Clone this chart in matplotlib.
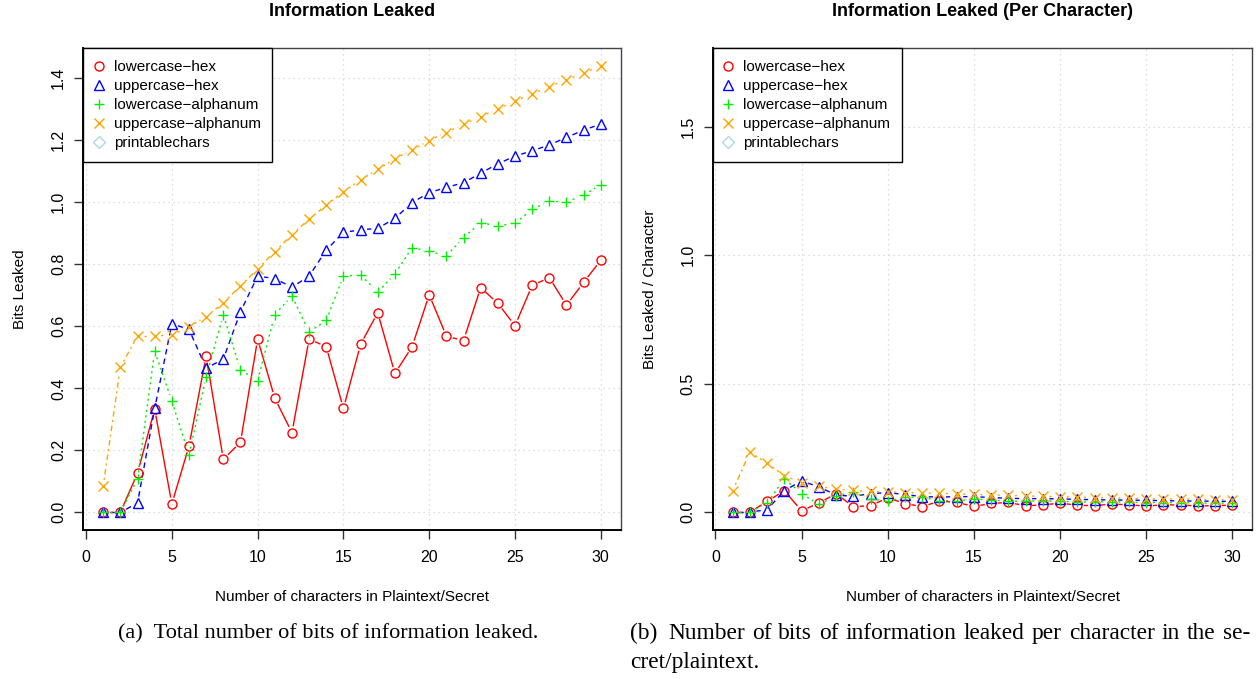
import numpy as np
import matplotlib
matplotlib.use("Agg")
import matplotlib.pyplot as plt
from matplotlib.lines import Line2D
from matplotlib.collections import LineCollection

plt.rcParams['font.family'] = ['Liberation Sans', 'DejaVu Sans']

n_chars = list(range(1, 31))

lowercase_hex = [0.0, 0.0, 0.126, 0.333, 0.027, 0.214, 0.504, 0.171, 0.226, 0.559,
                 0.368, 0.257, 0.559, 0.534, 0.335, 0.542, 0.644, 0.448, 0.534, 0.702,
                 0.568, 0.554, 0.725, 0.674, 0.602, 0.732, 0.757, 0.668, 0.742, 0.813]
uppercase_hex = [0.0, 0.0, 0.030, 0.335, 0.608, 0.590, 0.465, 0.494, 0.647, 0.762,
                 0.754, 0.726, 0.762, 0.846, 0.903, 0.911, 0.916, 0.948, 0.999, 1.031,
                 1.048, 1.063, 1.094, 1.124, 1.149, 1.166, 1.185, 1.209, 1.233, 1.252]
lowercase_alphanum = [0.0, 0.0, 0.108, 0.520, 0.359, 0.185, 0.438, 0.637, 0.459, 0.425,
                      0.638, 0.698, 0.582, 0.619, 0.762, 0.766, 0.710, 0.769, 0.854, 0.842,
                      0.827, 0.886, 0.934, 0.924, 0.932, 0.977, 1.003, 1.001, 1.023, 1.057]
uppercase_alphanum = [0.084, 0.468, 0.569, 0.569, 0.572, 0.599, 0.631, 0.676, 0.730, 0.785,
                      0.841, 0.895, 0.946, 0.991, 1.034, 1.072, 1.106, 1.140, 1.169, 1.199,
                      1.225, 1.252, 1.276, 1.301, 1.327, 1.349, 1.373, 1.395, 1.418, 1.440]

series_names = ["lowercase\u2212hex", "uppercase\u2212hex", "lowercase\u2212alphanum",
                "uppercase\u2212alphanum", "printablechars"]
series_values = [lowercase_hex, uppercase_hex, lowercase_alphanum, uppercase_alphanum]
colors = ["#FF0000", "#0000FF", "#00EE00", "#FFA500", "#ADD8E6"]
markers = ["o", "^", "+", "x", "D"]
msizes = [6.5, 7.5, 7.5, 6.5, 6.0]
linestyles = ["solid", (0, (4, 3)), (0, (1.5, 2.5)), (0, (1.5, 2.5, 4, 2.5))]

titles = ["Information Leaked", "Information Leaked (Per Character)"]
ylabels = ["Bits Leaked", "Bits Leaked / Character"]
xlabel = "Number of characters in Plaintext/Secret"
left_yticks = [0.0, 0.2, 0.4, 0.6, 0.8, 1.0, 1.2, 1.4]
right_yticks = [0.0, 0.5, 1.0, 1.5]
xticks = [0, 5, 10, 15, 20, 25, 30]
caption_a = "(a)  Total number of bits of information leaked."
caption_b1 = "(b) Number of bits of information leaked per character in the se-"
caption_b2 = "cret/plaintext."

W, H = 1260, 679
fig = plt.figure(figsize=(W / 100, H / 100), dpi=100)

def px_axes(x0, y0, x1, y1):
    return fig.add_axes([x0 / W, 1 - y1 / H, (x1 - x0) / W, (y1 - y0) / H])

ax1 = px_axes(83.3, 48, 620.7, 530.2)
ax2 = px_axes(712.7, 48, 1252.4, 530.2)
axes_info = [(ax1, False, left_yticks, (-0.0576, 1.4976), 352),
             (ax2, True, right_yticks, (-0.0702, 1.806), 982)]

x = np.array(n_chars, dtype=float)
GAP = 6.5  # pixels of gap around each point (R type="b")

def style(ax, yticks, ylim, ylabel):
    ax.set_xlim(-0.16, 31.16)
    ax.set_ylim(*ylim)
    ax.set_xticks(xticks)
    ax.set_yticks(yticks)
    ax.set_yticklabels([f"{t:.1f}" for t in yticks], rotation=90, va="center")
    ax.tick_params(axis="both", direction="out", length=6.5, width=1.0, labelsize=11.5,
                   color="#333333")
    ax.tick_params(axis="x", pad=8)
    ax.tick_params(axis="y", pad=6)
    ax.grid(True, color="#D3D3D3", linestyle=(0, (1, 3)), linewidth=0.9)
    ax.set_axisbelow(True)
    for s in ["left", "bottom"]:
        ax.spines[s].set_linewidth(1.4)
        ax.spines[s].set_color("black")
    for s in ["top", "right"]:
        ax.spines[s].set_linewidth(1.0)
        ax.spines[s].set_color("#444444")
    ax.set_xlabel(xlabel, fontsize=11, labelpad=18)
    ax.set_ylabel(ylabel, fontsize=11, labelpad=17)

def draw(ax, per_char):
    for vals, c, m, ms, ls in zip(series_values, colors, markers, msizes, linestyles):
        y = np.array(vals)
        if per_char:
            y = y / x
        pts = ax.transData.transform(np.column_stack([x, y]))
        inv = ax.transData.inverted()
        segs = []
        for p0, p1 in zip(pts[:-1], pts[1:]):
            d = p1 - p0
            L = np.hypot(*d)
            if L > 2 * GAP + 1:
                u = d / L
                segs.append([inv.transform(p0 + u * GAP), inv.transform(p1 - u * GAP)])
        lc = LineCollection(segs, colors=c, linewidths=1.0, linestyles=ls, zorder=2)
        ax.add_collection(lc)
        if m in ("o", "^", "D"):
            ax.plot(x, y, linestyle="none", marker=m, markersize=ms,
                    markerfacecolor="none", markeredgecolor=c, markeredgewidth=1.0, zorder=3)
        else:
            ax.plot(x, y, linestyle="none", marker=m, markersize=ms,
                    color=c, markeredgewidth=1.0, zorder=3)

def legend(ax):
    handles = []
    for c, m, ms in zip(colors, markers, msizes):
        if m in ("o", "^", "D"):
            h = Line2D([], [], linestyle="none", marker=m, markersize=ms,
                       markerfacecolor="none", markeredgecolor=c, markeredgewidth=1.0)
        else:
            h = Line2D([], [], linestyle="none", marker=m, markersize=ms, color=c,
                       markeredgewidth=1.0)
        handles.append(h)
    leg = ax.legend(handles, series_names, loc="upper left", fontsize=11, frameon=True,
                    fancybox=False, edgecolor="black", borderaxespad=0, handlelength=0.45,
                    handletextpad=0.75, labelspacing=0.33, borderpad=0.78, framealpha=1)
    leg.get_frame().set_linewidth(1.0)

for (ax, per_char, yt, yl, cx), ylab, title in zip(axes_info, ylabels, titles):
    style(ax, yt, yl, ylab)
    draw(ax, per_char)
    legend(ax)
    fig.text(cx / W, 1 - 11 / H, title, fontsize=13, fontweight="bold",
             ha="center", va="center")

cap_kw = dict(family="Liberation Serif", fontsize=16, va="baseline")
capb_kw = dict(family="Liberation Serif", fontsize=16.8, va="baseline")
fig.text(118 / W, 1 - 638.5 / H, caption_a, ha="left", **cap_kw)

# justified first line of caption (b), spanning 630..1250 px
renderer = fig.canvas.get_renderer()
tokens = caption_b1.split()
widths = []
for t in tokens:
    tt = fig.text(0, 0, t, **capb_kw)
    widths.append(tt.get_window_extent(renderer).width)
    tt.remove()
x0_px, x1_px = 630.0, 1250.0
weights = [1.5] + [1.0] * (len(tokens) - 2)
unit = (x1_px - x0_px - sum(widths)) / sum(weights)
cur = x0_px
for i, (t, wd) in enumerate(zip(tokens, widths)):
    fig.text(cur / W, 1 - 639 / H, t, ha="left", **capb_kw)
    if i < len(weights):
        cur += wd + unit * weights[i]
fig.text(630 / W, 1 - 668 / H, caption_b2, ha="left", **capb_kw)

fig.savefig("out.png", dpi=100)
